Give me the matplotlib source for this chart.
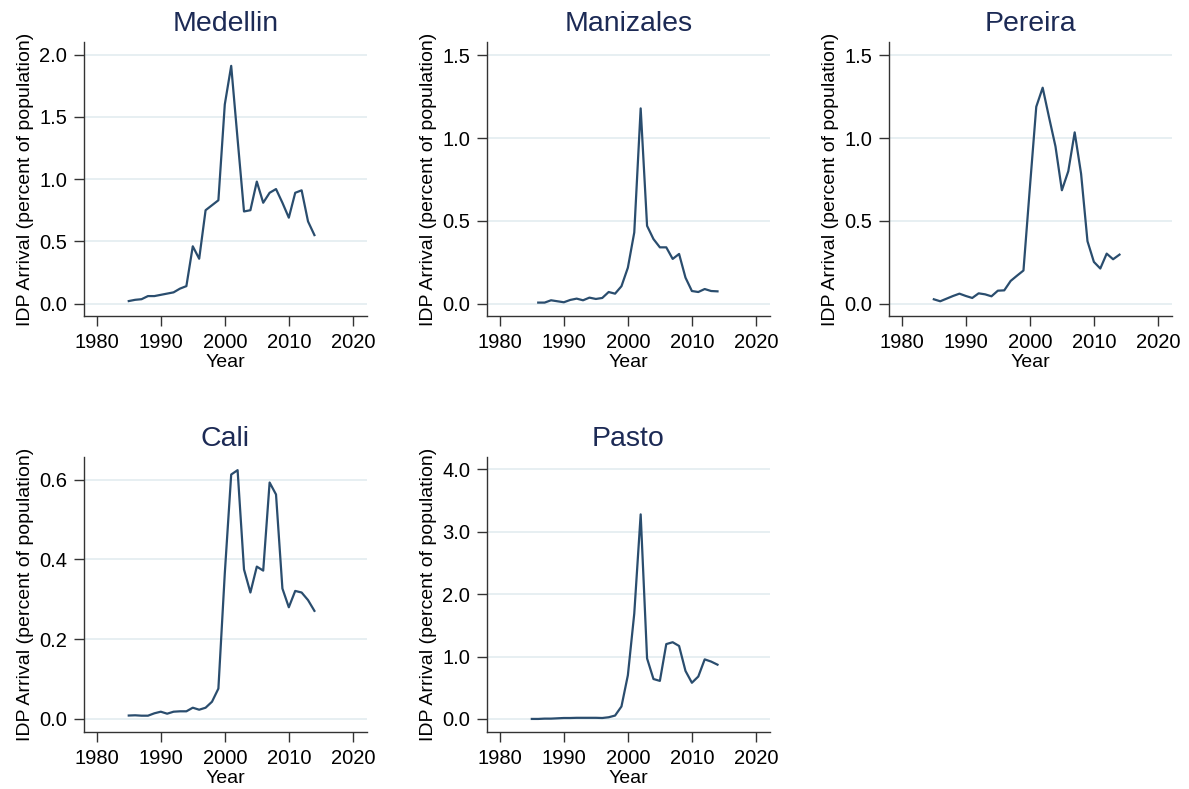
import numpy as np
import matplotlib
matplotlib.use("Agg")
import matplotlib.pyplot as plt

plt.rcParams["font.family"] = ["Liberation Sans", "DejaVu Sans"]

years_85 = list(range(1985, 2015))
years_86 = list(range(1986, 2015))

medellin = [0.02, 0.03, 0.035, 0.06, 0.06, 0.07, 0.08, 0.09, 0.12, 0.14,
            0.46, 0.36, 0.75, 0.79, 0.83, 1.60, 1.91, 1.32, 0.74, 0.75,
            0.98, 0.81, 0.89, 0.92, 0.81, 0.69, 0.89, 0.91, 0.66, 0.55]
manizales = [0.006, 0.006, 0.02, 0.014, 0.008, 0.022, 0.03, 0.02, 0.036,
             0.028, 0.034, 0.07, 0.06, 0.105, 0.217, 0.43, 1.18, 0.47, 0.39,
             0.34, 0.34, 0.27, 0.30, 0.157, 0.076, 0.07, 0.088, 0.076, 0.074]
pereira = [0.026, 0.014, 0.03, 0.046, 0.06, 0.046, 0.034, 0.062, 0.056, 0.044,
           0.078, 0.08, 0.137, 0.169, 0.2, 0.7, 1.19, 1.305, 1.125, 0.95,
           0.685, 0.8, 1.035, 0.785, 0.377, 0.252, 0.212, 0.302, 0.268, 0.296]
cali = [0.0084, 0.009, 0.008, 0.008, 0.014, 0.018, 0.013, 0.018, 0.019, 0.019,
        0.028, 0.023, 0.028, 0.043, 0.076, 0.365, 0.613, 0.624, 0.375, 0.317,
        0.382, 0.372, 0.593, 0.563, 0.327, 0.28, 0.321, 0.317, 0.298, 0.271]
pasto = [0.0, 0.0, 0.005, 0.005, 0.01, 0.015, 0.015, 0.018, 0.018, 0.018,
         0.018, 0.015, 0.027, 0.054, 0.2, 0.70, 1.69, 3.28, 0.97, 0.64,
         0.61, 1.20, 1.23, 1.17, 0.77, 0.58, 0.68, 0.955, 0.92, 0.87]

x_ticks = [1980, 1990, 2000, 2010, 2020]

panels = [
    ("Medellin", years_85, medellin, [0, 0.5, 1.0, 1.5, 2.0], (-0.1, 2.1)),
    ("Manizales", years_86, manizales, [0, 0.5, 1.0, 1.5], (-0.075, 1.58)),
    ("Pereira", years_85, pereira, [0, 0.5, 1.0, 1.5], (-0.075, 1.58)),
    ("Cali", years_85, cali, [0, 0.2, 0.4, 0.6], (-0.033, 0.657)),
    ("Pasto", years_85, pasto, [0, 1.0, 2.0, 3.0, 4.0], (-0.21, 4.2)),
]

# axes boxes in figure fractions (left, bottom, width, height)
boxes = [
    (0.0706, 0.5995, 0.238, 0.347),
    (0.4096, 0.5995, 0.238, 0.347),
    (0.7477, 0.5995, 0.238, 0.347),
    (0.0706, 0.0722, 0.238, 0.3486),
    (0.4096, 0.0722, 0.238, 0.3486),
]

line_color = "#2a4d6e"
title_color = "#1c2a55"
grid_color = "#e3ecf0"
spine_color = "#333333"

fig = plt.figure(figsize=(11.89, 7.89), dpi=100)

for (name, yrs, vals, yticks, ylim), box in zip(panels, boxes):
    ax = fig.add_axes(box)
    for yt in yticks:
        ax.axhline(yt, color=grid_color, lw=1.2, zorder=0)
    ax.plot(yrs, vals, color=line_color, lw=1.6)
    ax.set_xlim(1978, 2022.2)
    ax.set_ylim(*ylim)
    ax.set_xticks(x_ticks)
    ax.set_yticks(yticks)
    ax.set_yticklabels([f"{t:.1f}" for t in yticks])
    ax.spines["top"].set_visible(False)
    ax.spines["right"].set_visible(False)
    for s in ("left", "bottom"):
        ax.spines[s].set_color(spine_color)
        ax.spines[s].set_linewidth(1.0)
    ax.tick_params(labelsize=14.5, length=7, width=1.0, color=spine_color, pad=5)
    ax.set_xlabel("Year", fontsize=14, labelpad=2)
    ax.set_ylabel("IDP Arrival (percent of population)", fontsize=14, labelpad=4)
    ax.set_title(name, fontsize=20.5, color=title_color, pad=8)

fig.savefig("out.png", dpi=100)
